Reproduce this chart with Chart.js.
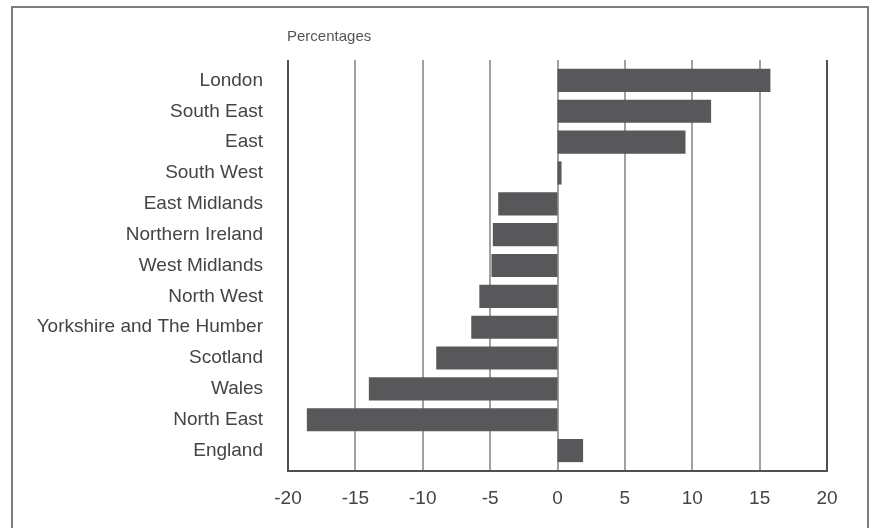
<!DOCTYPE html>
<html>
<head>
<meta charset="utf-8">
<script src="https://cdn.jsdelivr.net/npm/chart.js@4/dist/chart.umd.min.js"></script>
<style>
html,body{margin:0;padding:0;background:#fff;}
#wrap{width:876px;height:528px;position:relative;}
</style>
</head>
<body>
<div id="wrap"><canvas id="c" width="876" height="528"></canvas></div>
<script>
const categories = ['London','South East','East','South West','East Midlands','Northern Ireland','West Midlands','North West','Yorkshire and The Humber','Scotland','Wales','North East','England'];
const values = [15.8, 11.4, 9.5, 0.3, -4.4, -4.8, -4.9, -5.8, -6.4, -9.0, -14.0, -18.6, 1.9];
const xTicks = [-20, -15, -10, -5, 0, 5, 10, 15, 20];
const unitLabel = 'Percentages';

const FONT = "'Liberation Sans', Arial, Helvetica, sans-serif";

const decor = {
  id: 'decor',
  beforeDraw(chart) {
    const ctx = chart.ctx;
    ctx.save();
    ctx.strokeStyle = '#7d7d7d';
    ctx.lineWidth = 2;
    ctx.strokeRect(12, 7, 856, 540);
    ctx.restore();
  },
  beforeDatasetsDraw(chart) {
    const ctx = chart.ctx;
    const xs = chart.scales.x;
    const area = chart.chartArea;
    const top = area.top - 5, bottom = area.bottom + 5;
    ctx.save();
    xTicks.forEach((t, i) => {
      const px = Math.round(xs.getPixelForValue(t));
      const edge = (i === 0 || i === xTicks.length - 1);
      ctx.strokeStyle = edge ? '#505050' : '#8a8a8a';
      ctx.lineWidth = edge ? 2 : 1.6;
      ctx.beginPath();
      ctx.moveTo(px, top);
      ctx.lineTo(px, bottom + (edge ? 1 : 0));
      ctx.stroke();
    });
    ctx.strokeStyle = '#505050';
    ctx.lineWidth = 2;
    ctx.beginPath();
    ctx.moveTo(Math.round(xs.getPixelForValue(xTicks[0])) - 1, bottom);
    ctx.lineTo(Math.round(xs.getPixelForValue(xTicks[xTicks.length - 1])) + 1, bottom);
    ctx.stroke();
    ctx.fillStyle = '#555';
    ctx.font = '15px ' + FONT;
    ctx.textAlign = 'left';
    ctx.textBaseline = 'middle';
    ctx.fillText(unitLabel, Math.round(xs.getPixelForValue(xTicks[0])) - 1, 37);
    ctx.restore();
  }
};

new Chart(document.getElementById('c'), {
  type: 'bar',
  data: {
    labels: categories,
    datasets: [{
      data: values,
      backgroundColor: '#58585b',
      borderWidth: 0,
      categoryPercentage: 1.0,
      barPercentage: 0.75
    }]
  },
  options: {
    indexAxis: 'y',
    responsive: false,
    animation: false,
    devicePixelRatio: 1,
    layout: { padding: { top: 65, right: 49, left: 0, bottom: 0 } },
    plugins: { legend: { display: false }, tooltip: { enabled: false } },
    scales: {
      y: {
        type: 'category',
        offset: true,
        grid: { display: false, drawTicks: false },
        border: { display: false },
        ticks: { color: '#444', font: { family: FONT, size: 19 }, padding: 25, autoSkip: false },
        afterFit(s) { s.width = 288; }
      },
      x: {
        type: 'linear',
        min: xTicks[0],
        max: xTicks[xTicks.length - 1],
        afterBuildTicks(s) { s.ticks = xTicks.map(v => ({ value: v })); },
        grid: { display: false, drawTicks: false },
        border: { display: false },
        ticks: { color: '#444', font: { family: FONT, size: 19 }, padding: 21 },
        afterFit(s) { s.height = 62; }
      }
    }
  },
  plugins: [decor]
});
</script>
</body>
</html>
